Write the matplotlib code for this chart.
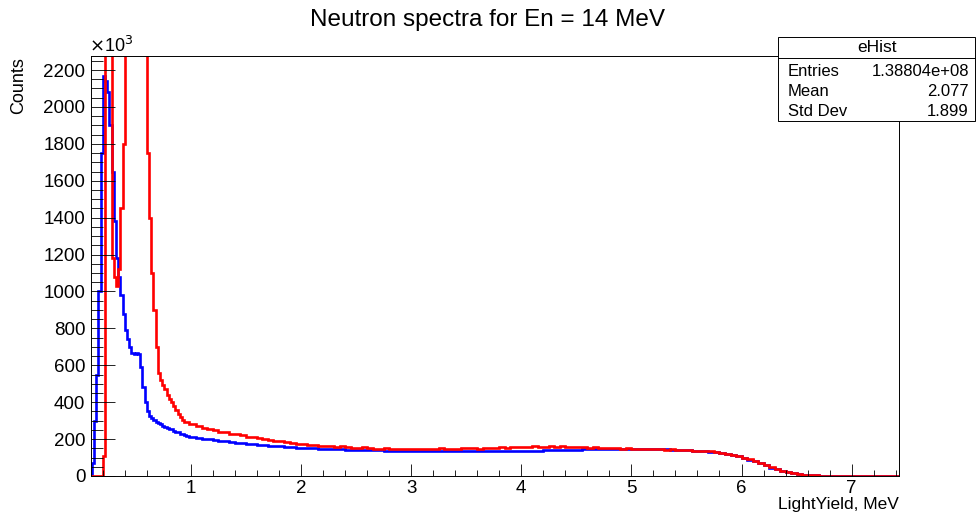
import numpy as np
import matplotlib.pyplot as plt
from matplotlib.ticker import MultipleLocator

plt.rcParams['font.family'] = ['Liberation Sans', 'DejaVu Sans']

# counts in units of 10^3
# fine binning, 0.08 .. 1.00 MeV, 0.02 MeV bins
low_edges = np.round(np.arange(0.08, 1.0001, 0.02), 3)
blue_low = [10, 70, 300, 550, 1000, 1750, 2170, 2140, 2080, 1900,
            1650, 1380, 1180, 1080, 980, 880, 790, 740, 700, 665,
            660, 665, 660, 590, 480, 400, 350, 325, 312, 303,
            295, 287, 280, 273, 267, 262, 257, 252, 246, 241,
            236, 230, 225, 220, 216, 212]
red_low = [0, 0, 0, 0, 0, 0, 110, 3000, 3200, 3100,
           1180, 1080, 1030, 1120, 1450, 1800, 2400, 3000, 3300, 3400,
           3500, 3400, 3300, 3100, 2800, 2400, 1750, 1400, 1100, 900,
           700, 560, 520, 495, 470, 440, 415, 400, 380, 355,
           335, 318, 305, 295, 290, 282]

# coarse binning, 1.00 .. 7.45 MeV, 0.05 MeV bins
high_edges = np.round(np.arange(1.0, 7.4501, 0.05), 3)
blue_high = [210, 206, 202, 198, 194, 190, 187, 184, 181, 178,
             175, 172, 169, 167, 164, 162, 160, 158, 156, 154,
             153, 151, 150, 149, 148, 146, 145, 144, 143, 143,
             142, 141, 140, 140, 139, 138, 138, 137, 137, 136,
             136, 136, 135, 135, 135, 134, 134, 134, 134, 134,
             134, 134, 134, 134, 135, 135, 135, 135, 136, 136,
             137, 137, 138, 138, 139, 140, 140, 141, 142, 143,
             143, 144, 145, 145, 146, 146, 147, 147, 147, 147,
             147, 147, 146, 146, 145, 145, 144, 143, 142, 141,
             140, 138, 136, 134, 131, 128, 124, 119, 113, 106,
             98, 89, 79, 68, 57, 46, 36, 27, 20, 14,
             10, 7, 5, 3, 2, 1.5, 1, 1, 0.5, 0.5,
             0.5, 0.3, 0.3, 0.2, 0.2, 0.1, 0.1, 0.1, 0.1]
red_high = [280, 270, 262, 255, 247, 240, 236, 230, 226, 221,
            214, 210, 206, 203, 197, 192, 188, 185, 180, 176,
            174, 170, 168, 164, 162, 160, 158, 160, 155, 153,
            152, 155, 150, 149, 148, 151, 147, 146, 148, 145,
            146, 144, 147, 148, 145, 150, 147, 149, 148, 151,
            150, 153, 149, 152, 154, 151, 155, 153, 156, 155,
            158, 156, 160, 157, 159, 161, 157, 160, 158, 157,
            156, 158, 154, 155, 152, 153, 150, 151, 149, 150,
            148, 149, 146, 147, 145, 146, 143, 144, 141, 140,
            139, 137, 138, 135, 133, 130, 126, 121, 114, 107,
            99, 90, 80, 69, 58, 47, 37, 28, 20, 14,
            10, 7, 5, 3, 2, 1.5, 1, 1, 0.5, 0.5,
            0.5, 0.3, 0.3, 0.2, 0.2, 0.1, 0.1, 0.1, 0.1]

edges = np.concatenate([low_edges, high_edges[1:]])
blue = np.array(blue_low + blue_high)
red = np.array(red_low + red_high)

fig = plt.figure(figsize=(9.76, 5.14), dpi=100)
ax = fig.add_axes([91 / 976, 38 / 514, 808 / 976, 420 / 514])

ax.stairs(blue, edges, color='#0000ff', lw=1.9, baseline=None)
ax.stairs(red, edges, color='#ff0000', lw=1.9, baseline=None)

ax.set_xlim(0.093, 7.43)
ax.set_ylim(0, 2276)

ax.xaxis.set_major_locator(MultipleLocator(1))
ax.xaxis.set_minor_locator(MultipleLocator(0.2))
ax.yaxis.set_major_locator(MultipleLocator(200))
ax.yaxis.set_minor_locator(MultipleLocator(50))
ax.tick_params(axis='both', which='both', direction='in', colors='black',
               width=0.6, labelsize=13.5)
ax.tick_params(axis='x', which='major', length=8.6, pad=3)
ax.tick_params(axis='x', which='minor', length=4.3)
ax.tick_params(axis='y', which='major', length=17.3, pad=4)
ax.tick_params(axis='y', which='minor', length=8.6)
ax.tick_params(top=False, right=False)
for s in ax.spines.values():
    s.set_linewidth(0.7)

fig.text(0.5, 1 - 20 / 514, 'Neutron spectra for En = 14 MeV',
         ha='center', va='center', fontsize=17.5)
fig.text(89 / 976, 1 - 46 / 514, r'$\times$10$^{3}$', ha='left', va='center',
         fontsize=13)
fig.text(19 / 976, 1 - 57 / 514, 'Counts', rotation=90, ha='center', va='top',
         fontsize=13)
fig.text(899 / 976, 2 / 514, 'LightYield, MeV', ha='right', va='bottom',
         fontsize=12.5)

# stats box
bx0, by0, bx1, by1 = 778, 37, 975, 121
box = plt.Rectangle((bx0 / 976, 1 - by1 / 514), (bx1 - bx0) / 976,
                    (by1 - by0) / 514, transform=fig.transFigure,
                    facecolor='white', edgecolor='black', lw=0.7, zorder=5)
fig.patches.append(box)
fig.add_artist(plt.Line2D([bx0 / 976, bx1 / 976], [1 - 58 / 514, 1 - 58 / 514],
                          color='black', lw=0.7, zorder=6))
fig.text(877 / 976, 1 - 47 / 514, 'eHist', ha='center', va='center',
         fontsize=12.5, zorder=7)
stats_names = ['Entries', 'Mean', 'Std Dev']
stats_vals = ['1.38804e+08', '2.077', '1.899']
for i, (n, v) in enumerate(zip(stats_names, stats_vals)):
    y = 1 - (71 + 20 * i) / 514
    fig.text(788 / 976, y, n, ha='left', va='center', fontsize=12, zorder=7)
    fig.text(969 / 976, y, v, ha='right', va='center', fontsize=12, zorder=7)

fig.savefig('out.png', dpi=100)
